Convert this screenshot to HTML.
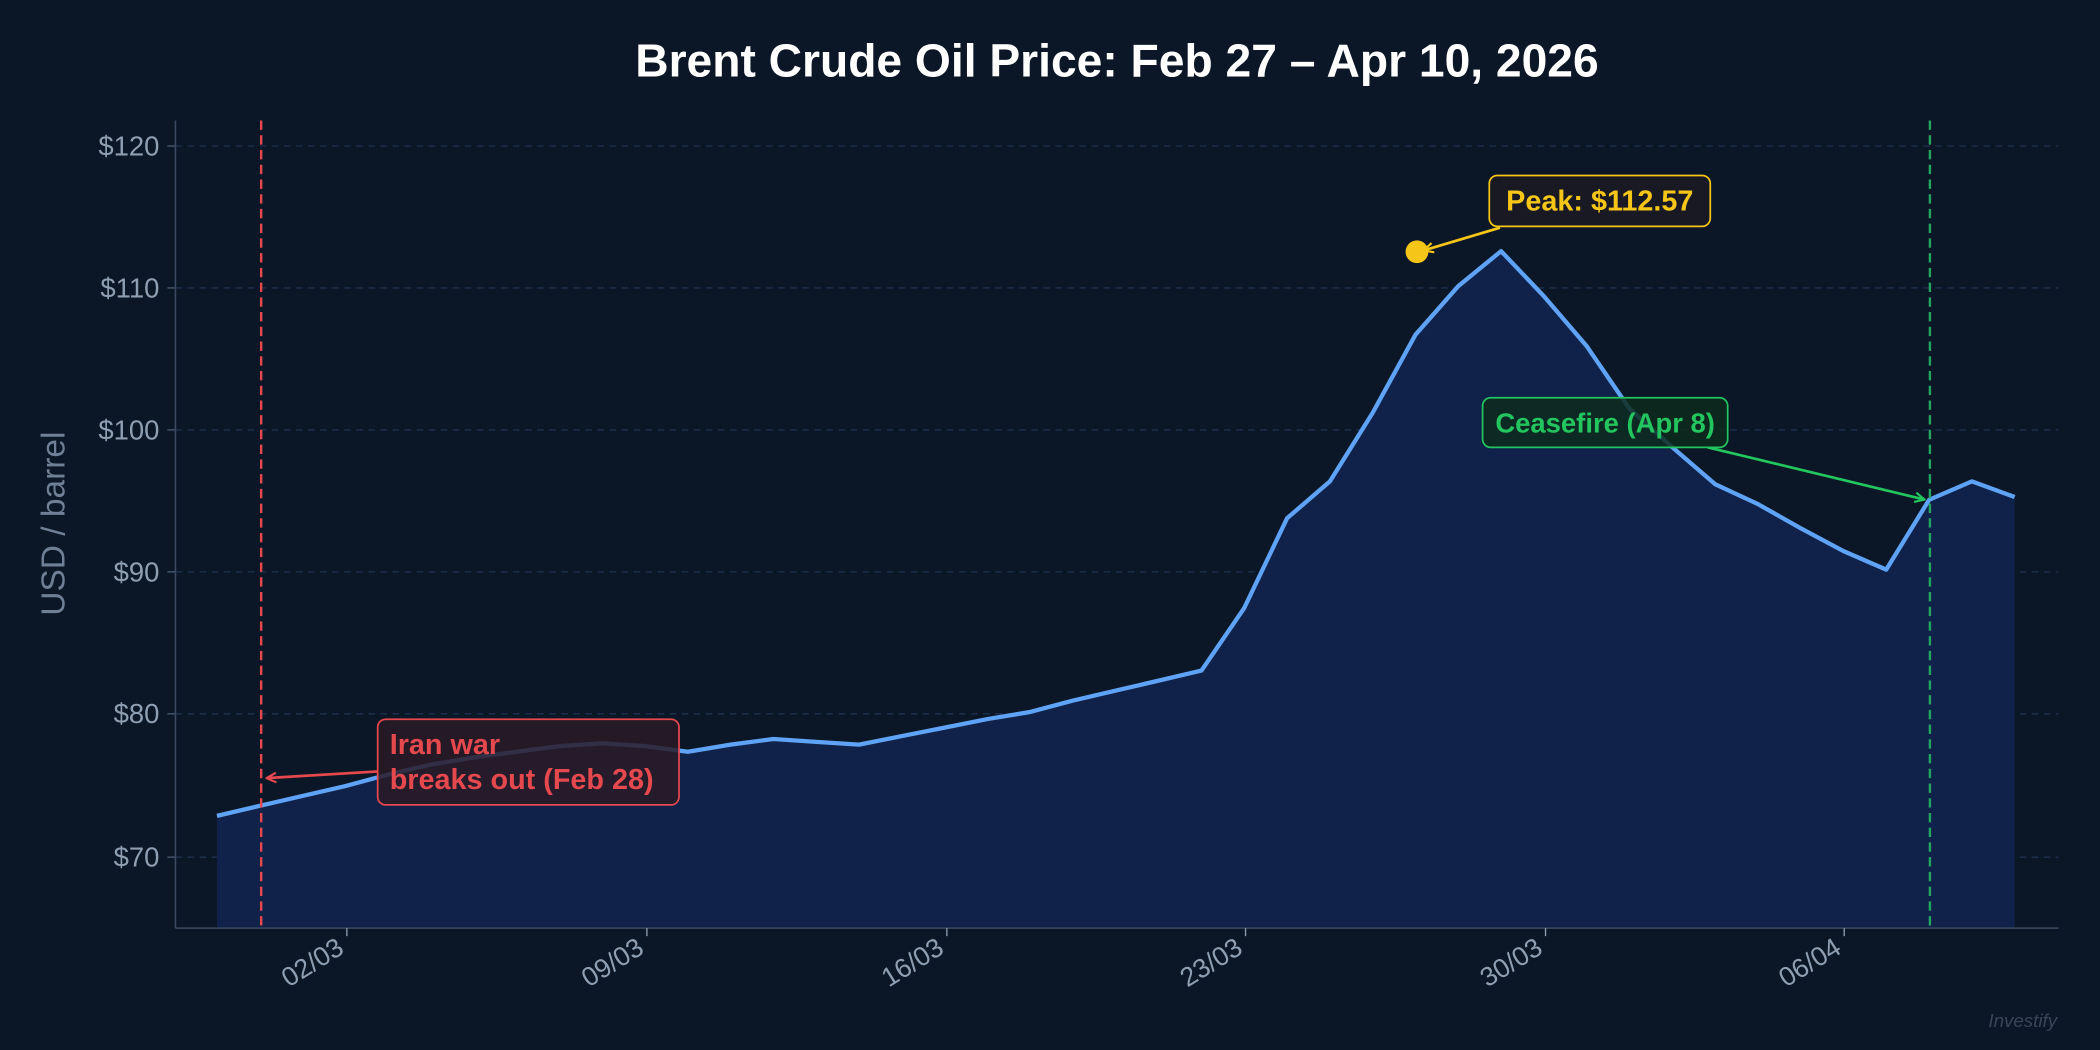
<!DOCTYPE html>
<html><head><meta charset="utf-8"><style>
html,body{margin:0;padding:0;background:#0b1626;}
svg{display:block;}
text{font-family:"Liberation Sans",sans-serif;}
</style></head><body>
<svg width="2100" height="1050" viewBox="0 0 1568 784" xmlns="http://www.w3.org/2000/svg">
<defs>
<marker id="ar" viewBox="0 0 10 10" refX="9" refY="5" markerWidth="9" markerHeight="9" orient="auto-start-reverse" markerUnits="userSpaceOnUse"><path d="M1,1 L9,5 L1,9" fill="none" stroke="context-stroke" stroke-width="1.8"/></marker>
</defs>
<rect width="1568" height="784" fill="#0b1626"/>
<text x="834" y="57" text-anchor="middle" font-size="34.5" font-weight="bold" fill="#ffffff">Brent Crude Oil Price: Feb 27 – Apr 10, 2026</text>
<g stroke="#1d3150" stroke-width="1" stroke-dasharray="5,4">
<line x1="131" x2="1537" y1="109" y2="109"/><line x1="131" x2="1537" y1="215" y2="215"/><line x1="131" x2="1537" y1="321" y2="321"/><line x1="131" x2="1537" y1="427" y2="427"/><line x1="131" x2="1537" y1="533" y2="533"/><line x1="131" x2="1537" y1="640" y2="640"/>
</g>
<g fill="#8f9fb3" font-size="20.5" text-anchor="end">
<text x="119" y="116">$120</text><text x="119" y="222">$110</text><text x="119" y="328">$100</text><text x="119" y="434">$90</text><text x="119" y="540">$80</text><text x="119" y="647">$70</text>
</g>
<g stroke="#4a5a70"><line x1="125" x2="131" y1="109" y2="109"/><line x1="125" x2="131" y1="215" y2="215"/><line x1="125" x2="131" y1="321" y2="321"/><line x1="125" x2="131" y1="427" y2="427"/><line x1="125" x2="131" y1="533" y2="533"/><line x1="125" x2="131" y1="640" y2="640"/></g>
<text transform="translate(48,391) rotate(-90)" text-anchor="middle" font-size="25" fill="#6f7f95">USD / barrel</text>
<polygon fill="#10214a" points="162,693 162,609.2 194,601.7 225.9,594.3 257.9,586.9 289.8,578.3 321.8,570.9 353.8,565.6 385.7,561.3 417.7,557.1 449.6,555 481.6,557.1 513.6,561.3 545.5,556 577.5,551.8 609.4,553.9 641.4,556 673.4,549.6 705.3,543.3 737.3,536.9 769.2,531.6 801.2,523.1 833.2,515.6 865.1,508.2 897.1,500.7 929,454 961,387 993,359.4 1024.9,308.3 1056.9,249.9 1088.8,213.7 1120.8,187.5 1152.8,221.2 1184.7,258.4 1216.7,305.2 1248.6,333.9 1280.6,361.5 1312.6,376.4 1344.5,394.4 1376.5,411.5 1408.4,425.3 1440.4,373.2 1472.4,359.4 1504.3,371.1 1504.3,693"/>
<polyline fill="none" stroke="#5ea3f5" stroke-width="3.2" stroke-linejoin="round" points="162,609.2 194,601.7 225.9,594.3 257.9,586.9 289.8,578.3 321.8,570.9 353.8,565.6 385.7,561.3 417.7,557.1 449.6,555 481.6,557.1 513.6,561.3 545.5,556 577.5,551.8 609.4,553.9 641.4,556 673.4,549.6 705.3,543.3 737.3,536.9 769.2,531.6 801.2,523.1 833.2,515.6 865.1,508.2 897.1,500.7 929,454 961,387 993,359.4 1024.9,308.3 1056.9,249.9 1088.8,213.7 1120.8,187.5 1152.8,221.2 1184.7,258.4 1216.7,305.2 1248.6,333.9 1280.6,361.5 1312.6,376.4 1344.5,394.4 1376.5,411.5 1408.4,425.3 1440.4,373.2 1472.4,359.4 1504.3,371.1"/>
<line x1="195" x2="195" y1="90" y2="693" stroke="#e5484d" stroke-width="1.8" stroke-dasharray="7,4"/>
<line x1="1441" x2="1441" y1="90" y2="693" stroke="#22a55e" stroke-width="1.8" stroke-dasharray="7,4"/>
<line x1="131" x2="131" y1="90" y2="693" stroke="#3a4a60" stroke-width="1.2"/>
<line x1="131" x2="1537" y1="693" y2="693" stroke="#3a4a60" stroke-width="1.2"/>
<g stroke="#8f9fb3"><line x1="259" x2="259" y1="693" y2="699"/><line x1="483" x2="483" y1="693" y2="699"/><line x1="707" x2="707" y1="693" y2="699"/><line x1="930" x2="930" y1="693" y2="699"/><line x1="1154" x2="1154" y1="693" y2="699"/><line x1="1377" x2="1377" y1="693" y2="699"/></g>
<g fill="#8f9fb3" font-size="20" text-anchor="end">
<text transform="translate(258,711) rotate(-32)">02/03</text>
<text transform="translate(482,711) rotate(-32)">09/03</text>
<text transform="translate(706,711) rotate(-32)">16/03</text>
<text transform="translate(929,711) rotate(-32)">23/03</text>
<text transform="translate(1153,711) rotate(-32)">30/03</text>
<text transform="translate(1376,711) rotate(-32)">06/04</text>
</g>
<circle cx="1058" cy="188" r="8.5" fill="#f5c518"/>
<line x1="1120" y1="170" x2="1063" y2="187" stroke="#f5c518" stroke-width="2" marker-end="url(#ar)"/>
<rect x="1112" y="131" width="165" height="38" rx="6" fill="#1a1a24" fill-opacity="0.9" stroke="#f5c518" stroke-width="1.3"/>
<text x="1194.5" y="157" text-anchor="middle" font-size="21.5" font-weight="bold" fill="#f5c518">Peak: $112.57</text>
<line x1="1275" y1="334" x2="1437" y2="373" stroke="#22c55e" stroke-width="2" marker-end="url(#ar)"/>
<rect x="1107" y="297" width="183" height="37" rx="6" fill="#0d2a1c" fill-opacity="0.85" stroke="#22c55e" stroke-width="1.3"/>
<text x="1198.5" y="323" text-anchor="middle" font-size="20.5" font-weight="bold" fill="#22c55e">Ceasefire (Apr 8)</text>
<line x1="282" y1="576" x2="199" y2="581" stroke="#e5484d" stroke-width="2" marker-end="url(#ar)"/>
<rect x="282" y="537" width="225" height="64" rx="6" fill="#2a1a26" fill-opacity="0.85" stroke="#e5484d" stroke-width="1.3"/>
<text font-size="21.5" font-weight="bold" fill="#e5484d"><tspan x="291" y="563">Iran war</tspan><tspan x="291" y="589">breaks out (Feb 28)</tspan></text>
<text x="1536" y="767" text-anchor="end" font-size="14" font-style="italic" fill="#3a4658">Investify</text>
</svg>
</body></html>
